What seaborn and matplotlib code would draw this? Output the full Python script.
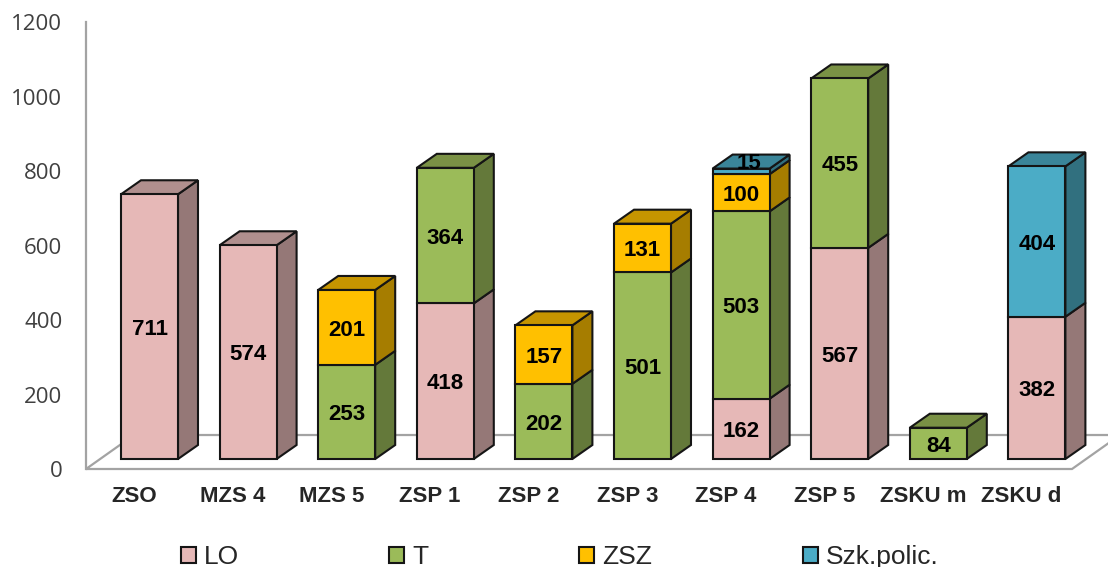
import numpy as np
import pandas as pd
import matplotlib
matplotlib.use("Agg")
import matplotlib.pyplot as plt
from matplotlib.patches import Patch, Polygon
import seaborn as sns

# --- data ---
schools = ["ZSO", "MZS 4", "MZS 5", "ZSP 1", "ZSP 2", "ZSP 3", "ZSP 4", "ZSP 5", "ZSKU m", "ZSKU d"]
series_names = ["LO", "T", "ZSZ", "Szk.polic."]
lo = [711, 574, 0, 418, 0, 0, 162, 567, 0, 382]
t = [0, 0, 253, 364, 202, 501, 503, 455, 84, 0]
zsz = [0, 0, 201, 0, 157, 131, 100, 0, 0, 0]
police = [0, 0, 0, 0, 0, 0, 15, 0, 0, 404]
y_ticks = [0, 200, 400, 600, 800, 1000, 1200]

# --- styles ---
front_colors = ["#E6B8B7", "#9BBB59", "#FFC000", "#4BACC6"]
top_colors = ["#B08F8E", "#7A9145", "#C69500", "#3A8599"]
side_colors = ["#957877", "#64793A", "#A67D00", "#31707F"]
edge = "#151515"
wall = "#A3A3A3"

# bars stand in front of the wall, so the axis labels sit lower than the bars' zero
px_per_unit = 0.3725
px_per_cat = 98.6
floor_drop = 10 / px_per_unit
depth_x = 20 / px_per_cat
depth_y = 14 / px_per_unit

sns.set_style("white")
plt.rcParams["font.family"] = ["Liberation Sans", "DejaVu Sans"]

fig = plt.figure(figsize=(11.08, 5.67), dpi=100)
ax = fig.add_axes([86 / 1108, 1 - 469 / 567, (1108 - 86) / 1108, 447 / 567])

# --- bars ---
df = pd.DataFrame({"school": schools, "LO": lo, "T": t, "ZSZ": zsz, "Szk.polic.": police})
bottoms = df[series_names].cumsum(axis=1).shift(1, axis=1).fillna(0)
totals = df[series_names].sum(axis=1).to_numpy()

for k, name in enumerate(series_names):
    sub = pd.DataFrame({"school": df["school"], "value": df[name], "bottom": bottoms[name]})
    sub = sub[sub["value"] > 0]
    n_before = len(ax.patches)
    sns.barplot(data=sub, x="school", y="value", order=schools, bottom=sub["bottom"].to_numpy(),
                width=0.578, color=front_colors[k], saturation=1, errorbar=None,
                edgecolor=edge, linewidth=1.5, zorder=3, ax=ax)
    for bar in list(ax.patches[n_before:]):
        x0, y0 = bar.get_x(), bar.get_y()
        w, h = bar.get_width(), bar.get_height()
        x1, y1 = x0 + w, y0 + h
        ax.add_patch(Polygon([(x1, y0), (x1 + depth_x, y0 + depth_y), (x1 + depth_x, y1 + depth_y), (x1, y1)],
                             facecolor=side_colors[k], edgecolor=edge, lw=1.5, zorder=2))
        # only the last segment of a stack shows its top
        pos = int(round(x0 + w / 2))
        if abs(y1 - totals[pos]) < 0.5:
            ax.add_patch(Polygon([(x0, y1), (x0 + depth_x, y1 + depth_y), (x1 + depth_x, y1 + depth_y), (x1, y1)],
                                 facecolor=top_colors[k], edgecolor=edge, lw=1.5, zorder=2))
        # the 15 is too thin for its label, it gets pushed up onto the top face
        offset = (6, 6) if h < 20 else (0, -2)
        ax.annotate(f"{int(h)}", (x0 + w / 2, y0 + h / 2), xytext=offset, textcoords="offset points",
                    ha="center", va="center", fontsize=16, fontweight="bold", color="black",
                    zorder=5, annotation_clip=False)

# --- axes ---
xmin = -(149.5 - 86) / px_per_cat
xmax = (1108 - 149.5) / px_per_cat
ymin = -floor_drop
ymax = ymin + 447 / px_per_unit
ax.set_xlim(xmin, xmax)
ax.set_ylim(ymin, ymax + 0.5)

floor_right = (1072 - 149.5) / px_per_cat
floor_dx = 48 / px_per_cat
floor_dy = 34 / px_per_unit
ax.add_patch(Polygon([(xmin, ymin), (floor_right, ymin), (floor_right + floor_dx, ymin + floor_dy),
                      (xmin + floor_dx, ymin + floor_dy)],
                     closed=True, fill=False, edgecolor=wall, lw=1.6, zorder=1, clip_on=False))

sns.despine(ax=ax, top=True, right=True, bottom=True)
ax.spines["left"].set_color(wall)
ax.spines["left"].set_linewidth(1.6)

ax.set_yticks(np.array(y_ticks) - floor_drop, labels=[str(v) for v in y_ticks])
ax.tick_params(axis="y", length=0, pad=17, labelsize=16, labelcolor="#404040")
for label in ax.get_yticklabels():
    label.set_family(["Open Sans", "DejaVu Sans"])

ax.set_xticks(np.arange(len(schools)) - 0.155, labels=schools)
ax.tick_params(axis="x", length=0, pad=12, labelsize=16)
for label in ax.get_xticklabels():
    label.set_fontweight("bold")
ax.set_xlabel("")
ax.set_ylabel("")

# --- legend, one per entry because the gaps are not even ---
legend_x = [181, 389, 579, 803]
for k, name in enumerate(series_names):
    handle = Patch(facecolor=front_colors[k], edgecolor=edge, lw=1.5)
    fig.legend(handles=[handle], labels=[name], loc="center left",
               bbox_to_anchor=(legend_x[k] / 1108, 1 - 557 / 567), frameon=False,
               fontsize=19, borderpad=0, borderaxespad=0, handlelength=0.57,
               handleheight=0.57, handletextpad=0.3)

fig.savefig("out.png", dpi=100)
